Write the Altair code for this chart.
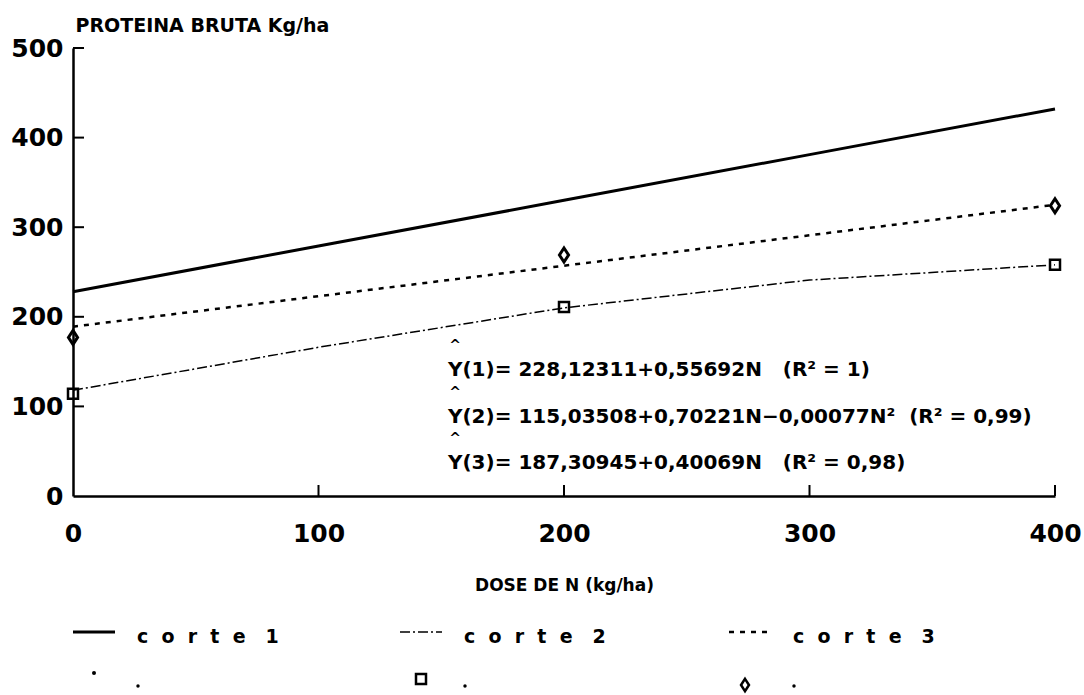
import altair as alt
import pandas as pd

# ---- data ----
dose = [0, 100, 200, 300, 400]
corte1 = [228, 279, 330, 381, 432]
corte2 = [118, 166, 210, 241, 258]
corte3 = [189, 223, 257, 291, 325]

obs_dose = [0, 200, 400]
obs_corte2 = [114, 211, 258]   # squares
obs_corte3 = [177, 269, 324]   # diamonds

x_tick_values = [100, 200, 300, 400]
y_tick_values = [100, 200, 300, 400, 500]
x_labels = [0, 100, 200, 300, 400]
y_labels = [0, 100, 200, 300, 400, 500]

NB = "\u00a0"
equations = [
    "Y(1)= 228,12311+0,55692N" + NB * 3 + "(R\u00b2 = 1)",
    "Y(2)= 115,03508+0,70221N\u22120,00077N\u00b2" + NB * 2 + "(R\u00b2 = 0,99)",
    "Y(3)= 187,30945+0,40069N" + NB * 3 + "(R\u00b2 = 0,98)",
]
legend_names = ["corte 1", "corte 2", "corte 3"]

FONT = "DejaVu Sans"
W, H = 982, 448

xscale = alt.Scale(domain=[0, 400], nice=False, zero=False)
yscale = alt.Scale(domain=[0, 500], nice=False)

xaxis = alt.Axis(values=x_labels, ticks=False, tickSize=0, grid=False, domainWidth=2.5,
                 domainColor="black", labelFontSize=25, labelPadding=25,
                 labelFlush=False, title="DOSE DE N (kg/ha)", titleFontSize=17,
                 titleY=81, titleBaseline="top")
yaxis = alt.Axis(values=y_labels, ticks=False, tickSize=0, grid=False, domainWidth=2.5,
                 domainColor="black", labelFontSize=25, labelPadding=10,
                 labelFlush=False, title="PROTEINA BRUTA Kg/ha", titleFontSize=19,
                 titleAngle=0, titleAlign="left", titleBaseline="middle",
                 titleX=2, titleY=-23)


def X(f):
    return alt.X(f, type="quantitative", scale=xscale, axis=xaxis)


def Y(f):
    return alt.Y(f, type="quantitative", scale=yscale, axis=yaxis)


curves = pd.DataFrame({"dose": dose, "c1": corte1, "c2": corte2, "c3": corte3})
obs = pd.DataFrame({"dose": obs_dose, "sq": obs_corte2, "di": obs_corte3})

line1 = alt.Chart(curves).mark_line(color="black", strokeWidth=3).encode(x=X("dose"), y=Y("c1"))
line2 = alt.Chart(curves).mark_line(color="black", strokeWidth=1.5,
                                    strokeDash=[10, 3, 2, 3]).encode(x=X("dose"), y=Y("c2"))
line3 = alt.Chart(curves).mark_line(color="black", strokeWidth=2.5,
                                    strokeDash=[5, 6]).encode(x=X("dose"), y=Y("c3"))

DIAMOND = "M0,-1L0.65,0L0,1L-0.65,0Z"
squares = alt.Chart(obs).mark_point(shape="square", size=100, filled=False, color="black",
                                    strokeWidth=2.5, opacity=1).encode(x=X("dose"), y=Y("sq"))
diamonds = alt.Chart(obs).mark_point(shape=DIAMOND, size=196, filled=False, color="black",
                                     strokeWidth=3, opacity=1).encode(x=X("dose"), y=Y("di"))

xt = pd.DataFrame({"t": x_tick_values})
yt = pd.DataFrame({"t": y_tick_values})
xticks = alt.Chart(xt).mark_rule(color="black", strokeWidth=2).encode(
    x=X("t"), y=alt.value(H), y2=alt.value(H - 11))
yticks = alt.Chart(yt).mark_rule(color="black", strokeWidth=2).encode(
    y=Y("t"), x=alt.value(0), x2=alt.value(11))

layers = [line1, line2, line3, squares, diamonds, xticks, yticks]

# regression equations
eq_y = [322, 369, 415]
for txt, yy in zip(equations, eq_y):
    d = pd.DataFrame({"t": [txt]})
    layers.append(alt.Chart(d).mark_text(align="left", baseline="middle", font=FONT,
                                         fontWeight="bold", fontSize=20, color="black").encode(
        text="t:N", x=alt.value(375), y=alt.value(yy)))
    layers.append(alt.Chart(d).mark_text(align="center", baseline="middle", font=FONT,
                                         fontWeight="bold", fontSize=14, color="black").encode(
        text=alt.value("^"), x=alt.value(382), y=alt.value(yy - 24)))

# legend (bottom)
spaced = [(NB * 2).join(list(n.replace(" ", ""))[:-1]) + NB * 3 + n[-1]
          for n in legend_names]
leg_x = [0, 327, 656]
leg_dash = [[1, 0], [10, 3, 2, 3], [5, 6]]
leg_w = [3, 1.5, 2.5]
for i in range(3):
    d = pd.DataFrame({"t": [spaced[i]]})
    layers.append(alt.Chart(d).mark_rule(color="black", strokeWidth=leg_w[i],
                                         strokeDash=leg_dash[i]).encode(
        x=alt.value(leg_x[i]), x2=alt.value(leg_x[i] + 42), y=alt.value(584)))
    layers.append(alt.Chart(d).mark_text(align="left", baseline="middle", font=FONT,
                                         fontWeight="bold", fontSize=19, color="black").encode(
        text="t:N", x=alt.value(leg_x[i] + 64), y=alt.value(589)))
    # small dot under each label
    layers.append(alt.Chart(d).mark_point(shape="circle", size=12, filled=True, color="black",
                                          opacity=1).encode(
        x=alt.value(leg_x[i] + 65), y=alt.value(638)))

one = pd.DataFrame({"k": [0]})
layers.append(alt.Chart(one).mark_point(shape="circle", size=16, filled=True, color="black",
                                        opacity=1).encode(x=alt.value(21), y=alt.value(625)))
layers.append(alt.Chart(one).mark_point(shape="square", size=100, filled=False, color="black",
                                        strokeWidth=2.5, opacity=1).encode(
    x=alt.value(348), y=alt.value(631)))
layers.append(alt.Chart(one).mark_point(shape=DIAMOND, size=150, filled=False, color="black",
                                        strokeWidth=2.5, opacity=1).encode(
    x=alt.value(672), y=alt.value(637)))

chart = alt.layer(*layers).properties(
    width=W, height=H,
    autosize=alt.AutoSizeParams(type="none"),
    padding={"left": 73, "top": 48, "right": 29, "bottom": 199},
    background="white",
).configure_view(stroke=None).configure_axis(
    labelFont=FONT, labelFontWeight="bold", labelColor="black",
    titleFont=FONT, titleFontWeight="bold", titleColor="black",
)

chart.save("out.html", embed_options={"renderer": "svg", "actions": False})
